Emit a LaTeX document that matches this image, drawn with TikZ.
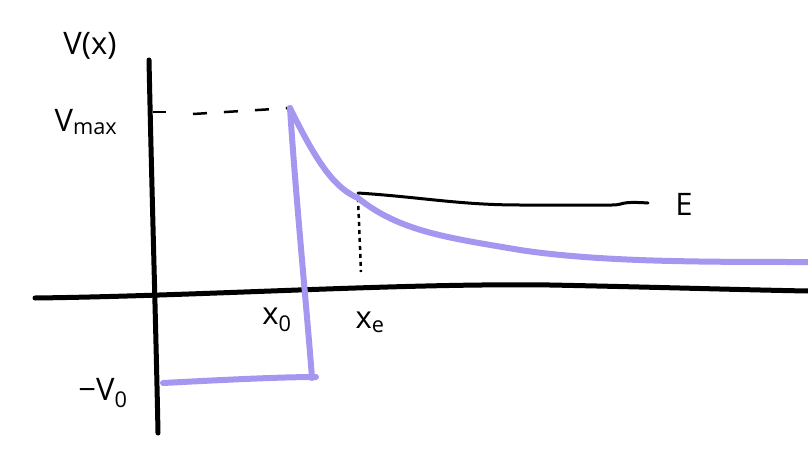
\documentclass[tikz,border=0pt]{standalone}
\usepackage{fontspec}
\setmainfont{Open Sans}
\definecolor{pot}{RGB}{165,150,240}
\begin{document}
\begin{tikzpicture}[x=1pt,y=-1pt,
  axis/.style={line width=5pt,line cap=round,black},
  potl/.style={line width=6pt,line cap=round,line join=round,pot},
  lbl/.style={font=\fontsize{31}{36}\selectfont,inner sep=0pt},
  guide/.style={line width=2.5pt,dash pattern=on 14pt off 17pt},
  energy/.style={line width=3pt,line cap=round,black}]
\useasboundingbox (0,0) rectangle (808,455);
% coordinates
\coordinate (ytop) at (149,60);
\coordinate (ybot) at (158,433);
\coordinate (xl) at (35,298);
\coordinate (xr) at (808,291);
\coordinate (tickL) at (153,112);
\coordinate (tickR) at (166,112);
\coordinate (dashL) at (193,114);
\coordinate (peak) at (290,108);
\coordinate (wellR) at (312,378);
\coordinate (wellL) at (163,383);
\coordinate (cross) at (358,198);
\coordinate (foot) at (361,272);
\coordinate (tail) at (808,262);
\coordinate (eL) at (358,193);
\coordinate (eR) at (648,203);
% axes
\draw[axis] (ytop) .. controls (152,200) and (156,330) .. (ybot);
\draw[axis] (xl) .. controls (200,296) and (400,283) .. (550,285) .. controls (650,287) and (750,290) .. (xr);
\draw[line width=2.5pt] (tickL) -- (tickR);
% guides
\draw[guide] (dashL) -- (peak);
\draw[line width=2.5pt,dash pattern=on 4pt off 4pt] (cross) -- (foot);
% energy level
\draw[energy] (eL) .. controls (420,197) and (460,205) .. (520,205) -- (612,205) .. controls (625,205) and (618,201) .. (eR);
% potential
\draw[potl] (wellL) .. controls (220,380) and (280,377) .. (316,377);
\draw[potl] (peak) .. controls (296,200) and (306,300) .. (wellR);
\draw[potl] (peak) .. controls (318,165) and (335,188) .. (cross) .. controls (400,232) and (450,238) .. (520,250) .. controls (600,262) and (700,262) .. (tail);
% labels
\node[lbl] (vx) at (90,46) {V(x)};
\node[lbl] (vmax) at (86,122) {V\textsubscript{max}};
\node[lbl] (x0) at (277,320) {x\textsubscript{0}};
\node[lbl] (xe) at (370,322) {x\textsubscript{e}};
\node[lbl] (en) at (684,204) {E};
\node[lbl] (v0) at (103,393) {−V\textsubscript{0}};
\end{tikzpicture}
\end{document}
